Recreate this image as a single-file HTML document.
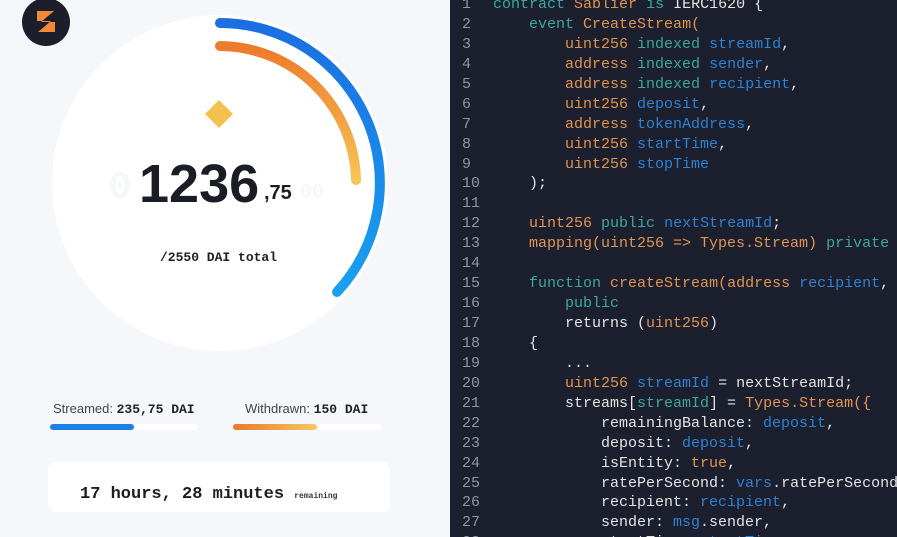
<!DOCTYPE html>
<html><head><meta charset="utf-8"><style>
*{margin:0;padding:0;box-sizing:border-box}
html,body{width:897px;height:537px;overflow:hidden}
body{background:#f5f7fb;position:relative;font-family:"Liberation Sans",sans-serif}
#left{position:absolute;left:0;top:0;width:450px;height:537px;background:#f5f7fb}
#right{position:absolute;left:450px;top:0;width:447px;height:537px;background:#1c1f2d;overflow:hidden}
.ln{position:absolute;left:12px;top:-5px;width:40px;text-align:left;color:#8f95a3;font:15px/19.93px "Liberation Mono",monospace}
pre{position:absolute;left:43px;top:-5px;margin:0;font:15px/19.93px "Liberation Mono",monospace;color:#e4e4e4;white-space:pre}
.k{color:#3aa89e}.o{color:#e09450}.b{color:#2d82d2}
.abs{position:absolute}
.mono{font-family:"Liberation Mono",monospace}
</style></head><body>
<div id="left">
<svg class="abs" style="left:0;top:0" width="450" height="537">
<defs><linearGradient id="og" x1="0" y1="0" x2="0" y2="1"><stop offset="0" stop-color="#ee7a2c"/><stop offset="1" stop-color="#f6c456"/></linearGradient>
<linearGradient id="og2" x1="0" y1="0" x2="1" y2="0"><stop offset="0" stop-color="#e9782e"/><stop offset="1" stop-color="#f4c860"/></linearGradient>
<linearGradient id="bg" x1="0" y1="0" x2="0" y2="1"><stop offset="0" stop-color="#1a6fe0"/><stop offset="1" stop-color="#1aa0f0"/></linearGradient></defs>
<circle cx="220" cy="183" r="168" fill="#ffffff"/>
<path d="M220 23 A160 160 0 0 1 337 292" fill="none" stroke="url(#bg)" stroke-width="10" stroke-linecap="round"/>
<path d="M220 46 A137 137 0 0 1 356 180" fill="none" stroke="url(#og)" stroke-width="10" stroke-linecap="round"/>
<circle cx="46" cy="22" r="24" fill="#1c1f2b"/>
<path d="M37 11 h17 l-13 11 h14 v10 h-17 l13 -11 h-14z" fill="#f08a3a"/>
<path d="M219 100 L233 114 L219 128 L205 114Z" fill="#f2c14e"/>
<rect x="50" y="424" width="84" height="6" rx="3" fill="#1b7fe6"/>
<rect x="134" y="424" width="64" height="6" rx="3" fill="#ffffff"/>
<rect x="233" y="424" width="84" height="6" rx="3" fill="url(#og2)"/>
<rect x="317" y="424" width="64" height="6" rx="3" fill="#ffffff"/>
<rect x="48" y="462" width="342" height="50" rx="8" fill="#ffffff"/>
</svg>
<div class="abs mono" style="left:108px;top:166px;font-size:40px;font-weight:bold;color:#f6f7f9">0</div>
<div class="abs mono" style="left:300px;top:181px;font-size:20px;font-weight:bold;color:#f6f7f9">00</div>
<div class="abs" style="left:139px;top:153px;font-size:54px;font-weight:bold;color:#1a1c26">1236</div>
<div class="abs" style="left:264px;top:182px;font-size:20px;font-weight:bold;color:#1a1c26">,75</div>
<div class="abs mono" style="left:160px;top:250px;font-size:13px;font-weight:bold;color:#222">/2550 DAI total</div>
<div class="abs" style="left:53px;top:401px;font-size:13px;color:#444">Streamed: <span class="mono" style="font-weight:bold;color:#222">235,75 DAI</span></div>
<div class="abs" style="left:245px;top:401px;font-size:13px;color:#444">Withdrawn: <span class="mono" style="font-weight:bold;color:#222">150 DAI</span></div>
<div class="abs mono" style="left:80px;top:485px;font-size:17px;font-weight:bold;color:#1a1c26">17 hours, 28 minutes <span style="font-size:8px;color:#333">remaining</span></div>
</div>
<div id="right">
<div class="ln">1<br>2<br>3<br>4<br>5<br>6<br>7<br>8<br>9<br>10<br>11<br>12<br>13<br>14<br>15<br>16<br>17<br>18<br>19<br>20<br>21<br>22<br>23<br>24<br>25<br>26<br>27<br>28</div>
<pre><span class="k">contract</span> <span class="o">Sablier</span> <span class="k">is</span> IERC1620 {
    <span class="k">event</span> <span class="o">CreateStream(</span>
        <span class="o">uint256</span> <span class="k">indexed</span> <span class="b">streamId</span>,
        <span class="o">address</span> <span class="k">indexed</span> <span class="b">sender</span>,
        <span class="o">address</span> <span class="k">indexed</span> <span class="b">recipient</span>,
        <span class="o">uint256</span> <span class="b">deposit</span>,
        <span class="o">address</span> <span class="b">tokenAddress</span>,
        <span class="o">uint256</span> <span class="b">startTime</span>,
        <span class="o">uint256</span> <span class="b">stopTime</span>
    );

    <span class="o">uint256</span> <span class="k">public</span> <span class="b">nextStreamId</span>;
    <span class="o">mapping(uint256 =&gt; Types.Stream)</span> <span class="k">private</span> streams;

    <span class="k">function</span> <span class="o">createStream(address</span> <span class="b">recipient</span>, uint256 deposit)
        <span class="k">public</span>
        returns (<span class="o">uint256</span>)
    {
        ...
        <span class="o">uint256</span> <span class="b">streamId</span> = nextStreamId;
        streams[<span class="k">streamId</span>] = <span class="o">Types.Stream({</span>
            remainingBalance: <span class="b">deposit</span>,
            deposit: <span class="b">deposit</span>,
            isEntity: <span class="o">true</span>,
            ratePerSecond: <span class="b">vars</span>.ratePerSecond,
            recipient: <span class="b">recipient</span>,
            sender: <span class="b">msg</span>.sender,
            startTime: <span class="b">startTime</span>,
</pre>
</div>
</body></html>
